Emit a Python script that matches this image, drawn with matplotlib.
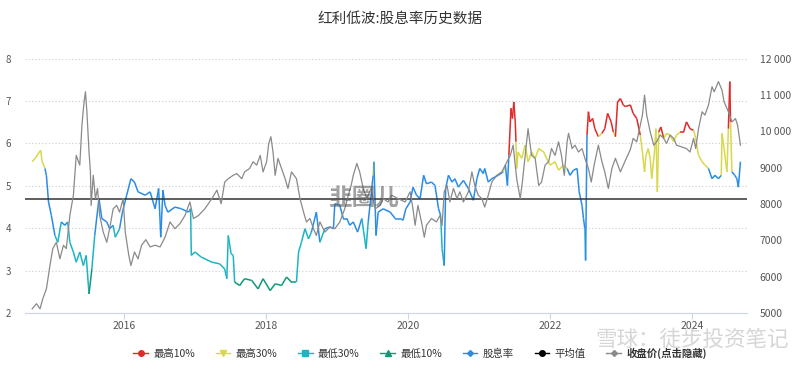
import matplotlib
matplotlib.use("Agg")
import matplotlib.pyplot as plt
from matplotlib.collections import LineCollection
from matplotlib.lines import Line2D
from matplotlib.ticker import FuncFormatter
import numpy as np

plt.rcParams['font.family'] = ['Noto Sans CJK SC', 'DejaVu Sans']

# 股息率 (decimal year, %)
yield_t = [2014.71, 2014.75, 2014.83, 2014.85, 2014.89, 2014.91, 2014.94, 2014.98, 2015.03, 2015.07,
           2015.12, 2015.17, 2015.21, 2015.24, 2015.29, 2015.33, 2015.38, 2015.43, 2015.47, 2015.51,
           2015.55, 2015.59, 2015.65, 2015.69, 2015.76, 2015.80, 2015.85, 2015.88, 2015.94, 2015.98,
           2016.04, 2016.10, 2016.15, 2016.20, 2016.30, 2016.37, 2016.44, 2016.49, 2016.52, 2016.55,
           2016.58, 2016.62, 2016.72, 2016.81, 2016.91, 2016.94, 2016.95, 2017.00, 2017.09, 2017.24,
           2017.35, 2017.42, 2017.45, 2017.47, 2017.51, 2017.54, 2017.56, 2017.63, 2017.70, 2017.80,
           2017.89, 2017.96, 2018.06, 2018.13, 2018.22, 2018.29, 2018.36, 2018.43, 2018.46, 2018.50,
           2018.55, 2018.60, 2018.64, 2018.71, 2018.76, 2018.83, 2018.90, 2018.95, 2018.97, 2019.04,
           2019.09, 2019.14, 2019.18, 2019.23, 2019.29, 2019.35, 2019.41, 2019.44, 2019.48, 2019.51,
           2019.52, 2019.55, 2019.58, 2019.65, 2019.75, 2019.82, 2019.89, 2019.93, 2019.97, 2020.03,
           2020.07, 2020.12, 2020.17, 2020.22, 2020.26, 2020.33, 2020.38, 2020.43, 2020.46, 2020.48,
           2020.51, 2020.53, 2020.57, 2020.62, 2020.66, 2020.71, 2020.78, 2020.85, 2020.92, 2020.97,
           2021.01, 2021.06, 2021.08, 2021.13, 2021.18, 2021.27, 2021.34, 2021.37, 2021.40, 2021.42,
           2021.45, 2021.47, 2021.49, 2021.51, 2021.52, 2021.53, 2021.55, 2021.60, 2021.65, 2021.69,
           2021.74, 2021.79, 2021.84, 2021.91, 2021.95, 2022.00, 2022.07, 2022.12, 2022.19, 2022.24,
           2022.28, 2022.33, 2022.38, 2022.41, 2022.45, 2022.47, 2022.49, 2022.50, 2022.52, 2022.54,
           2022.56, 2022.60, 2022.63, 2022.68, 2022.73, 2022.77, 2022.81, 2022.86, 2022.89, 2022.92,
           2022.95, 2022.99, 2023.03, 2023.06, 2023.13, 2023.17, 2023.22, 2023.27, 2023.30, 2023.33,
           2023.35, 2023.38, 2023.41, 2023.43, 2023.47, 2023.49, 2023.51, 2023.53, 2023.56, 2023.60,
           2023.64, 2023.69, 2023.74, 2023.78, 2023.83, 2023.88, 2023.92, 2023.97, 2024.02, 2024.05,
           2024.09, 2024.14, 2024.18, 2024.23, 2024.28, 2024.32, 2024.37, 2024.41, 2024.42, 2024.45,
           2024.49, 2024.51, 2024.53, 2024.54, 2024.56, 2024.60, 2024.63, 2024.65, 2024.68]
yield_v = [5.57, 5.65, 5.84, 5.57, 5.41, 5.25, 4.62, 4.30, 3.83, 3.67,
           4.15, 4.07, 4.15, 3.67, 3.44, 3.20, 3.44, 3.12, 3.36, 2.45,
           3.04, 3.83, 4.70, 4.23, 4.15, 3.99, 4.07, 3.79, 3.99, 4.38,
           4.78, 5.17, 5.09, 4.86, 4.78, 4.86, 4.46, 4.94, 3.79, 4.90,
           4.54, 4.38, 4.50, 4.46, 4.38, 4.46, 3.36, 3.44, 3.32, 3.20,
           3.16, 3.04, 2.81, 3.83, 3.40, 3.36, 2.73, 2.65, 2.81, 2.77,
           2.57, 2.81, 2.53, 2.69, 2.65, 2.85, 2.73, 2.73, 3.44, 3.67,
           3.99, 3.75, 3.91, 4.38, 3.67, 3.99, 4.03, 3.99, 4.58, 4.54,
           4.23, 4.23, 4.07, 4.15, 3.91, 4.23, 3.52, 4.15, 4.78, 5.25,
           5.57, 3.83, 4.38, 4.46, 4.38, 4.23, 4.23, 4.19, 4.46, 4.62,
           4.97, 4.78, 4.70, 5.25, 5.05, 5.09, 5.01, 4.46, 4.30, 3.52,
           3.12, 4.94, 5.25, 5.09, 5.17, 4.97, 5.13, 4.94, 4.66, 5.17,
           5.41, 5.29, 5.41, 5.09, 5.17, 5.25, 5.33, 5.49, 5.01, 5.72,
           6.83, 6.59, 6.98, 6.51, 6.04, 5.41, 5.80, 5.65, 5.96, 5.57,
           5.80, 5.65, 5.88, 5.80, 5.65, 5.49, 5.57, 5.37, 5.49, 5.41,
           5.25, 5.37, 5.41, 4.86, 4.54, 4.23, 3.99, 3.24, 6.20, 6.75,
           6.51, 6.59, 6.35, 6.16, 6.24, 6.35, 6.71, 6.51, 6.27, 6.16,
           6.98, 7.06, 6.91, 6.87, 6.91, 6.71, 6.59, 6.20, 5.80, 5.33,
           5.72, 5.88, 5.65, 5.17, 5.80, 6.35, 4.86, 6.27, 6.39, 6.12,
           6.24, 6.20, 6.04, 6.20, 6.27, 6.27, 6.51, 6.35, 6.31, 6.12,
           5.72, 5.57, 5.49, 5.41, 5.17, 5.25, 5.17, 5.25, 6.24, 5.88,
           5.33, 6.35, 7.46, 6.51, 5.33, 5.25, 5.17, 4.97, 5.57]

# 收盘价 (decimal year, index points)
close_t = [2014.71, 2014.77, 2014.82, 2014.86, 2014.91, 2014.96, 2015.00, 2015.05, 2015.10, 2015.15,
           2015.19, 2015.24, 2015.29, 2015.33, 2015.38, 2015.41, 2015.44, 2015.46, 2015.48, 2015.51,
           2015.53, 2015.54, 2015.57, 2015.60, 2015.63, 2015.66, 2015.71, 2015.76, 2015.80, 2015.85,
           2015.90, 2015.94, 2015.99, 2016.02, 2016.07, 2016.10, 2016.15, 2016.20, 2016.25, 2016.31,
           2016.37, 2016.44, 2016.51, 2016.58, 2016.65, 2016.72, 2016.79, 2016.86, 2016.93, 2016.98,
           2017.05, 2017.14, 2017.24, 2017.31, 2017.37, 2017.42, 2017.47, 2017.54, 2017.59, 2017.66,
           2017.70, 2017.77, 2017.82, 2017.87, 2017.92, 2017.96, 2018.01, 2018.04, 2018.07, 2018.10,
           2018.13, 2018.17, 2018.22, 2018.27, 2018.31, 2018.36, 2018.43, 2018.48, 2018.53, 2018.57,
           2018.62, 2018.67, 2018.71, 2018.76, 2018.83, 2018.90, 2018.97, 2019.04, 2019.11, 2019.16,
           2019.20, 2019.23, 2019.28, 2019.32, 2019.37, 2019.42, 2019.48, 2019.54, 2019.61, 2019.65,
           2019.72, 2019.77, 2019.86, 2019.96, 2020.03, 2020.07, 2020.10, 2020.14, 2020.19, 2020.23,
           2020.26, 2020.33, 2020.40, 2020.45, 2020.48, 2020.51, 2020.55, 2020.59, 2020.64, 2020.69,
           2020.73, 2020.78, 2020.85, 2020.90, 2020.94, 2020.99, 2021.04, 2021.08, 2021.13, 2021.18,
           2021.25, 2021.32, 2021.37, 2021.44, 2021.48, 2021.53, 2021.58, 2021.61, 2021.65, 2021.69,
           2021.74, 2021.79, 2021.84, 2021.88, 2021.93, 2021.98, 2022.02, 2022.07, 2022.12, 2022.16,
           2022.20, 2022.24, 2022.26, 2022.31, 2022.35, 2022.40, 2022.45, 2022.49, 2022.54, 2022.58,
           2022.62, 2022.68, 2022.73, 2022.77, 2022.82, 2022.87, 2022.92, 2022.99, 2023.06, 2023.13,
           2023.17, 2023.22, 2023.27, 2023.30, 2023.33, 2023.36, 2023.41, 2023.46, 2023.50, 2023.55,
           2023.60, 2023.64, 2023.69, 2023.74, 2023.78, 2023.85, 2023.92, 2023.97, 2024.02, 2024.05,
           2024.09, 2024.14, 2024.18, 2024.23, 2024.28, 2024.31, 2024.37, 2024.42, 2024.45, 2024.51,
           2024.56, 2024.61, 2024.64, 2024.68]
close_v = [5117, 5257, 5117, 5397, 5665, 6307, 6773, 6948, 6493, 6867,
           6773, 7683, 8243, 9340, 9072, 10168, 10810, 11090, 10540, 9433,
           8885, 7963, 8792, 8150, 8430, 7683, 7228, 6948, 7322, 7870,
           7963, 7777, 8150, 7228, 6587, 6307, 6680, 6493, 6867, 7020,
           6820, 6867, 6820, 7088, 7508, 7322, 7462, 7683, 8057, 7602,
           7683, 7870, 8150, 8383, 8010, 8605, 8698, 8792, 8838, 8698,
           8885, 8978, 9165, 9072, 9340, 8885, 9165, 9667, 9853, 9433,
           8792, 9258, 8978, 8698, 8430, 8885, 8698, 8150, 7777, 7508,
           7602, 7322, 7135, 7508, 7228, 7368, 7322, 7508, 7870, 8243,
           8512, 8792, 9118, 8885, 8430, 8150, 8430, 7870, 7963, 8150,
           8057, 8243, 8150, 8057, 8337, 7870, 7415, 7963, 7508, 7088,
           7415, 7602, 7508, 7683, 7415, 8337, 8512, 8057, 8430, 8150,
           8337, 8057, 8337, 8885, 8512, 8243, 8150, 7917, 8243, 8605,
           8792, 8885, 9072, 9340, 9620, 8698, 8150, 8605, 9340, 10075,
           9340, 9258, 8512, 8605, 9072, 9165, 9527, 9340, 9713, 9340,
           8792, 9713, 9947, 9527, 9620, 9433, 9527, 9258, 8978, 8605,
           9072, 9620, 9165, 8885, 8430, 8978, 9258, 8885, 9200, 9500,
           9807, 9713, 10168, 10448, 10997, 10448, 9983, 9620, 9713, 9900,
           9807, 9667, 9900, 9807, 9620, 9573, 9527, 9433, 9807, 9527,
           10075, 10540, 10448, 10728, 11230, 11090, 11370, 11137, 10810, 10540,
           10260, 10353, 10168, 9620]

avg_yield = 4.68
# percentile band edges of yield history
hi10, hi30, lo30, lo10 = 6.25, 5.4, 4.0, 2.9

C_RED = '#e02a2a'
C_YEL = '#d8d84a'
C_CYAN = '#1cb5c4'
C_TEAL = '#11997a'
C_BLUE = '#2a8ce6'
C_GRAY = '#8a8a8a'


def band_color(v):
    if v >= hi10:
        return C_RED
    if v >= hi30:
        return C_YEL
    if v < lo10:
        return C_TEAL
    if v < lo30:
        return C_CYAN
    return C_BLUE


fig = plt.figure(figsize=(8, 3.67), dpi=100)
ax = fig.add_axes([0.031, 0.147, 0.903, 0.693])
ax2 = ax.twinx()

# 股息率, coloured per segment
t = np.array(yield_t)
v = np.array(yield_v)
segs = np.stack([np.column_stack([t[:-1], v[:-1]]), np.column_stack([t[1:], v[1:]])], axis=1)
cols = [band_color((a + b) / 2) for a, b in zip(v[:-1], v[1:])]
ax.add_collection(LineCollection(segs, colors=cols, linewidths=1.1, zorder=3))

ax.axhline(avg_yield, color='#333333', lw=1.1, zorder=4)

ax2.plot(close_t, close_v, color=C_GRAY, lw=0.9, zorder=2)

ax.set_xlim(2014.606, 2024.775)
ax.set_ylim(2, 8)
ax2.set_ylim(5000, 12000)
ax.set_yticks(range(2, 9))
ax2.set_yticks(range(5000, 12001, 1000))


def fmt_right(x, pos):
    x = int(x)
    if x >= 10000:
        return f"{x // 1000} {x % 1000:03d}"
    return str(x)


ax2.yaxis.set_major_formatter(FuncFormatter(fmt_right))
ax.set_xticks([2016, 2018, 2020, 2022, 2024])
ax.set_xticklabels(['2016', '2018', '2020', '2022', '2024'])

for a in (ax, ax2):
    for s in a.spines.values():
        s.set_visible(False)
ax.spines['bottom'].set_visible(True)
ax.spines['bottom'].set_color('#ccd6eb')
ax.spines['bottom'].set_linewidth(0.8)

ax.grid(axis='y', color='#cccccc', linestyle=(0, (1, 2)), lw=0.8)
ax.tick_params(axis='y', length=0, labelsize=7, labelcolor='#555555', pad=10)
ax2.tick_params(axis='y', length=0, labelsize=7.5, labelcolor='#555555', pad=9)
ax.tick_params(axis='x', length=4, color='#ccd6eb', labelsize=7.5, labelcolor='#555555', pad=2)

fig.text(0.5, 0.95, '红利低波:股息率历史数据', ha='center', va='center', fontsize=10.5, color='#333333')

# watermarks
fig.text(0.455, 0.462, '韭圈儿', ha='center', va='center', fontsize=17, fontweight='bold',
         style='italic', color='#555555', alpha=0.55, zorder=10)
fig.text(0.865, 0.074, '雪球：徒步投资笔记', ha='center', va='center', fontsize=15.5,
         color='#bbbbbb', alpha=0.6, zorder=10)

handles = [
    Line2D([], [], color=C_RED, marker='o', markersize=4, lw=1),
    Line2D([], [], color=C_YEL, marker='v', markersize=4, lw=1),
    Line2D([], [], color=C_CYAN, marker='s', markersize=4, lw=1),
    Line2D([], [], color=C_TEAL, marker='^', markersize=4, lw=1),
    Line2D([], [], color=C_BLUE, marker='D', markersize=3, lw=1),
    Line2D([], [], color='#000000', marker='o', markersize=4, lw=1),
    Line2D([], [], color=C_GRAY, marker='D', markersize=3, lw=1),
]
labels = ['最高10%', '最高30%', '最低30%', '最低10%', '股息率', '平均值', '收盘价(点击隐藏)']
leg = fig.legend(handles, labels, loc='center', bbox_to_anchor=(0.525, 0.038), ncol=7,
                 frameon=False, fontsize=7.5, handlelength=1.4, columnspacing=2.0,
                 handletextpad=0.5)
for txt in leg.get_texts():
    txt.set_color('#333333')
leg.get_texts()[-1].set_fontweight('bold')

fig.savefig('out.png', dpi=100)
